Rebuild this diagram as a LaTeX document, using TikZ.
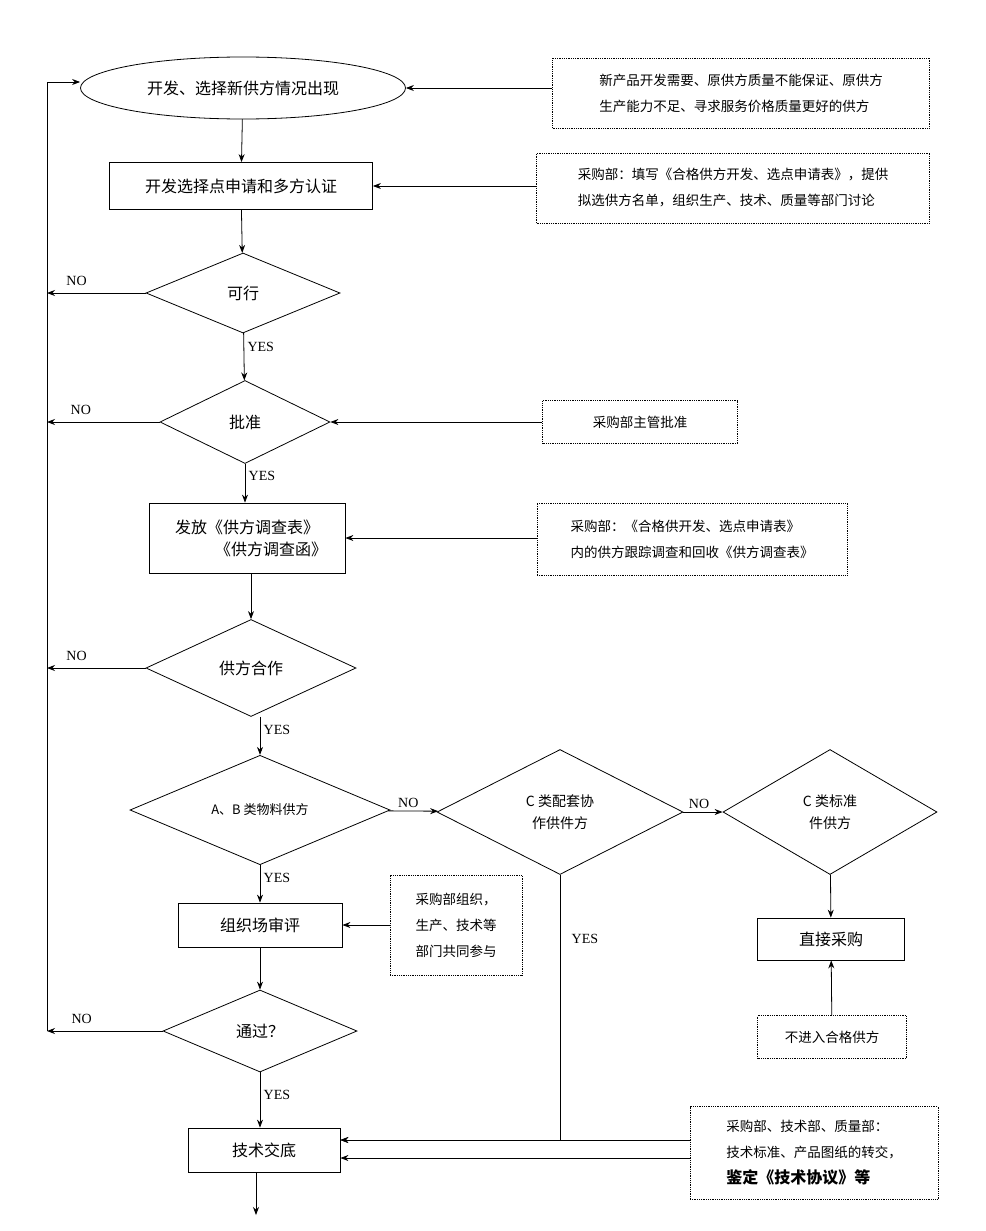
\documentclass[tikz,border=0pt]{standalone}
\usepackage{fontspec}
\setmainfont{Liberation Serif}
\newfontfamily\cjk{Noto Sans CJK SC}
\usetikzlibrary{arrows.meta, positioning, shapes.geometric}

\begin{document}
\begin{tikzpicture}[
    x=1pt, y=-1pt,
    every node/.style={align=center, font=\cjk\fontsize{16}{22}\selectfont},
    box/.style={draw, thick, inner sep=0pt},
    note/.style={draw, densely dotted, inner sep=0pt, font=\cjk\fontsize{13.5}{26}\selectfont},
    dia/.style={draw, thick, diamond, inner sep=0pt},
    lbl/.style={font=\fontsize{14}{16}\selectfont},
    >={Stealth[length=8pt,width=6pt]}, thick]
    \useasboundingbox (0,0) rectangle (985,1231);
    % main column
    \node[draw, thick, ellipse, minimum width=325, minimum height=62] (start) at (243,88) {开发、选择新供方情况出现};
    \node[box, minimum width=263, minimum height=47] (apply) at (241,186) {开发选择点申请和多方认证};
    \node[dia, minimum width=194, minimum height=80] (ok) at (243,293) {可行};
    \node[dia, minimum width=170, minimum height=83] (appr) at (245,422) {批准};
    \node[box, minimum width=196, minimum height=70] (send) at (247,538) {发放《供方调查表》\\\hspace*{3em}《供方调查函》};
    \node[dia, minimum width=210, minimum height=97] (coop) at (251,668) {供方合作};
    \node[dia, minimum width=260, minimum height=96, font=\cjk\fontsize{13}{16}\selectfont] (ab) at (260,810) {A、B 类物料供方};
    \node[dia, minimum width=246, minimum height=125, font=\cjk\fontsize{14}{22}\selectfont] (cpt) at (560,812) {C 类配套协\\作供件方};
    \node[dia, minimum width=214, minimum height=125, font=\cjk\fontsize{14}{22}\selectfont] (cstd) at (830,812) {C 类标准\\件供方};
    \node[box, minimum width=147, minimum height=42] (buy) at (831,939) {直接采购};
    \node[box, minimum width=164, minimum height=44] (audit) at (260,925) {组织场审评};
    \node[dia, minimum width=194, minimum height=82] (pass) at (260,1031) {通过？};
    \node[box, minimum width=152, minimum height=44] (tech) at (264,1150) {技术交底};
    \coordinate (out) at (256,1215);
    % notes
    \node[note, minimum width=377, minimum height=70, align=left] (n1) at (741,93) {新产品开发需要、原供方质量不能保证、原供方\\生产能力不足、寻求服务价格质量更好的供方};
    \node[note, minimum width=393, minimum height=70, align=left] (n2) at (733,188) {采购部：填写《合格供方开发、选点申请表》，提供\\拟选供方名单，组织生产、技术、质量等部门讨论};
    \node[note, minimum width=195, minimum height=43] (n3) at (640,422) {采购部主管批准};
    \node[note, minimum width=310, minimum height=72, align=left] (n4) at (692,539) {采购部：《合格供开发、选点申请表》\\内的供方跟踪调查和回收《供方调查表》};
    \node[note, minimum width=132, minimum height=100, align=left] (n5) at (456,925) {采购部组织，\\生产、技术等\\部门共同参与};
    \node[note, minimum width=149, minimum height=43] (n6) at (832,1037) {不进入合格供方};
    \node[note, minimum width=248, minimum height=93, align=left] (n7) at (814,1153) {采购部、技术部、质量部：\\技术标准、产品图纸的转交，\\{\fontsize{16}{26}\selectfont\bfseries 鉴定《技术协议》等}};
    % loop line
    \coordinate (lb) at (47,1031);
    \coordinate (lt) at (47,82);
    \draw (lb) -- (lt);
    \draw[->] (lt) -- (start.west |- lt);
    % flow
    \draw[->] (start) -- (apply);
    \draw[->] (apply) -- (ok);
    \draw[->] (ok) -- node[lbl, right, pos=0.3] {YES} (appr);
    \draw[->] (appr) -- node[lbl, right, pos=0.3] {YES} (appr |- send.north);
    \draw[->] (send.south -| coop) -- (coop);
    \draw[->] (coop.south -| ab) -- node[lbl, right, pos=0.35] {YES} (ab);
    \draw[->] (ab) -- node[lbl, above, pos=0.4] {NO} (cpt);
    \draw[->] (cpt) -- node[lbl, above, pos=0.4] {NO} (cstd);
    \draw[->] (cstd) -- (buy);
    \draw[->] (n6) -- (buy);
    \draw[->] (ab) -- node[lbl, right, pos=0.35] {YES} (audit);
    \draw[->] (audit) -- (pass);
    \draw[->] (pass) -- node[lbl, right, pos=0.4] {YES} (pass |- tech.north);
    \draw[->] (cpt.south) |- node[lbl, right=8pt, pos=0.12] {YES} ([yshift=10]tech.east);
    \draw[->] (tech.south -| out) -- (out);
    % NO branches
    \foreach \d in {ok, appr, coop, pass}
        \draw[->] (\d.west) -- (\d.west -| lb) node[lbl, pos=0.7, above=4pt] {NO};
    % notes to steps
    \draw[->] (n1.west |- start) -- (start);
    \draw[->] (n2.west |- apply) -- (apply);
    \draw[->] (n3) -- (appr);
    \draw[->] (n4.west |- send) -- (send);
    \draw[->] (n5.west |- audit) -- (audit);
    \draw[->] ([yshift=10]n7.west |- tech) -- ([yshift=10]tech.east);
    \draw[->] ([yshift=-8]n7.west |- tech) -- ([yshift=-8]tech.east);
\end{tikzpicture}
\end{document}
